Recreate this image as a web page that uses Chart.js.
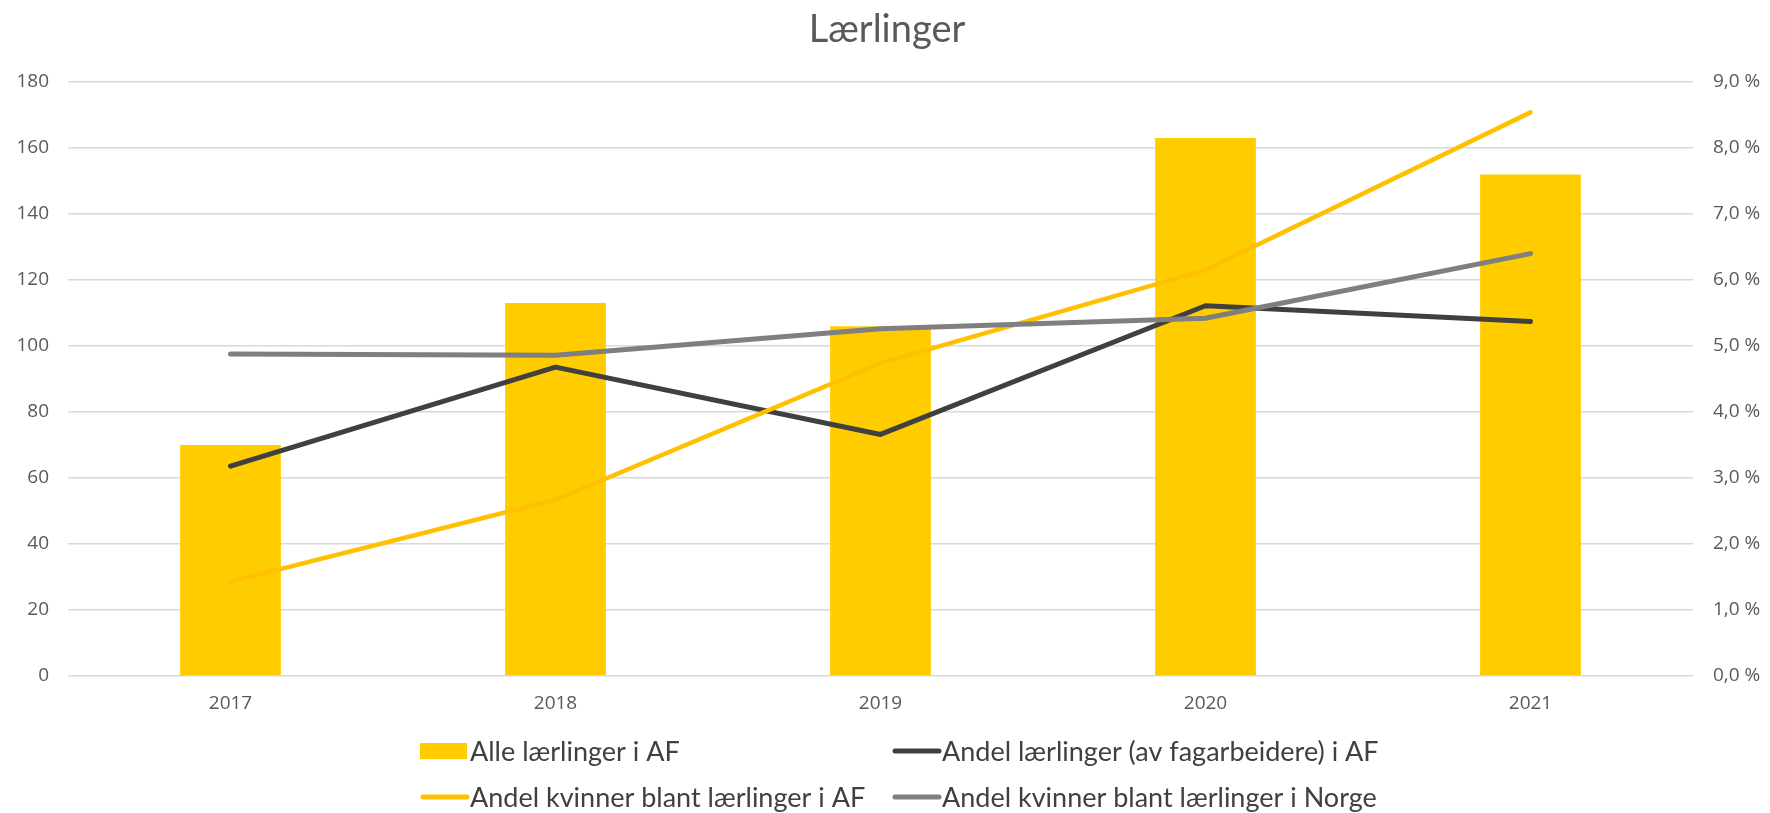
<!DOCTYPE html>
<html lang="no">
<head>
<meta charset="utf-8">
<title>Lærlinger</title>
<script src="https://cdn.jsdelivr.net/npm/chart.js@4/dist/chart.umd.min.js"></script>
<style>
    html, body { margin: 0; padding: 0; background: #ffffff; }
    #wrap { width: 1770px; height: 813px; }
</style>
</head>
<body>
<div id="wrap">
    <canvas id="laerlingChart" width="1770" height="813"></canvas>
</div>
<script>
const chartTitle = 'Lærlinger';
const years = ['2017', '2018', '2019', '2020', '2021'];

// antall (venstre akse)
const alleLaerlinger = [70, 113, 106, 163, 152];

// prosent (høyre akse)
const andelLaerlingerAF = [3.18, 4.68, 3.66, 5.61, 5.37];
const andelKvinnerAF = [1.43, 2.67, 4.74, 6.15, 8.54];
const andelKvinnerNorge = [4.88, 4.86, 5.26, 5.42, 6.40];

const leftTicks = { min: 0, max: 180, step: 20 };
const rightTicks = { min: 0, max: 9, step: 1 };

const tickFont = { family: "'Open Sans', sans-serif", size: 19 };
const tickColor = '#595959';

const formatPercent = v => v.toFixed(1).replace('.', ',') + ' %';

// title + 2x2 legend, drawn by hand so the columns line up like the original
const titleAndLegend = {
    id: 'titleAndLegend',
    afterDraw(chart) {
        const ctx = chart.ctx;
        ctx.save();
        ctx.fillStyle = '#595959';
        ctx.font = "38px Lato, 'Liberation Sans', sans-serif";
        ctx.textAlign = 'center';
        ctx.textBaseline = 'alphabetic';
        ctx.fillText(chartTitle, chart.width / 2 + 2, 42);

        const cols = [420, 892];
        const rows = [751, 797];
        chart.data.datasets.forEach((ds, i) => {
            const x = cols[i % 2];
            const y = rows[Math.floor(i / 2)];
            if (ds.type === 'bar') {
                ctx.fillStyle = ds.backgroundColor;
                ctx.fillRect(x, y - 8, 47, 16);
            } else {
                ctx.strokeStyle = ds.borderColor;
                ctx.lineWidth = 5;
                ctx.lineCap = 'round';
                ctx.beginPath();
                ctx.moveTo(x + 3, y);
                ctx.lineTo(x + 47, y);
                ctx.stroke();
            }
            ctx.fillStyle = '#404040';
            ctx.font = "27px Lato, 'Liberation Sans', sans-serif";
            ctx.textAlign = 'left';
            ctx.textBaseline = 'middle';
            ctx.fillText(ds.label, x + 50, y + 1);
        });
        ctx.restore();
    }
};

const lineStyle = {
    type: 'line',
    yAxisID: 'yRight',
    borderWidth: 5,
    pointRadius: 0,
    pointHoverRadius: 0,
    tension: 0,
    borderCapStyle: 'round',
    borderJoinStyle: 'round',
    fill: false
};

new Chart(document.getElementById('laerlingChart'), {
    data: {
        labels: years,
        datasets: [
            {
                type: 'bar',
                label: 'Alle lærlinger i AF',
                data: alleLaerlinger,
                yAxisID: 'yLeft',
                backgroundColor: '#FFCC00',
                barPercentage: 0.31,
                categoryPercentage: 1,
                order: 4
            },
            {
                ...lineStyle,
                label: 'Andel lærlinger (av fagarbeidere) i AF',
                data: andelLaerlingerAF,
                borderColor: '#404040',
                order: 3
            },
            {
                ...lineStyle,
                label: 'Andel kvinner blant lærlinger i AF',
                data: andelKvinnerAF,
                borderColor: '#FFC000',
                borderWidth: 4.5,
                order: 2
            },
            {
                ...lineStyle,
                label: 'Andel kvinner blant lærlinger i Norge',
                data: andelKvinnerNorge,
                borderColor: '#7F7F7F',
                order: 1
            }
        ]
    },
    options: {
        responsive: false,
        animation: false,
        layout: { padding: { top: 82, bottom: 97, left: 0, right: 0 } },
        plugins: {
            legend: { display: false },
            title: { display: false },
            tooltip: { enabled: false }
        },
        scales: {
            x: {
                grid: { display: false },
                border: { display: false },
                ticks: { font: tickFont, color: tickColor, padding: 8 },
                afterFit: s => { s.height = 40; }
            },
            yLeft: {
                position: 'left',
                min: leftTicks.min,
                max: leftTicks.max,
                ticks: { stepSize: leftTicks.step, font: tickFont, color: tickColor, padding: 19 },
                grid: { color: '#d9d9d9', lineWidth: 1.5, drawTicks: false },
                border: { display: false },
                afterFit: s => { s.width = 68; }
            },
            yRight: {
                position: 'right',
                min: rightTicks.min,
                max: rightTicks.max,
                ticks: {
                    stepSize: rightTicks.step,
                    font: tickFont,
                    color: tickColor,
                    padding: 20,
                    callback: v => formatPercent(v)
                },
                grid: { display: false, drawTicks: false },
                border: { display: false },
                afterFit: s => { s.width = 77; }
            }
        }
    },
    plugins: [titleAndLegend]
});
</script>
</body>
</html>
